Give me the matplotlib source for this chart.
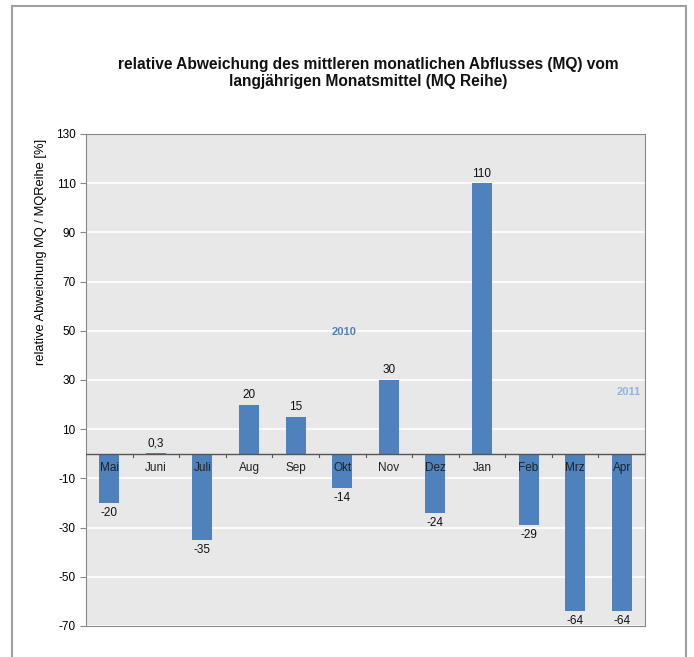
import matplotlib
matplotlib.use("Agg")
import matplotlib.pyplot as plt
from matplotlib.patches import Rectangle

months = ["Mai", "Juni", "Juli", "Aug", "Sep", "Okt", "Nov", "Dez", "Jan", "Feb", "Mrz", "Apr"]
values = [-20, 0.3, -35, 20, 15, -14, 30, -24, 110, -29, -64, -64]
value_labels = ["-20", "0,3", "-35", "20", "15", "-14", "30", "-24", "110", "-29", "-64", "-64"]
yticks = [130, 110, 90, 70, 50, 30, 10, -10, -30, -50, -70]

plt.rcParams['font.family'] = ['Liberation Sans', 'DejaVu Sans']

fig = plt.figure(figsize=(6.94, 6.57), dpi=100)
# outer frame
fig.patches.append(Rectangle((12/694, -0.01), (686-12)/694, 1 - 6/657 + 0.01,
                             transform=fig.transFigure, fill=False,
                             edgecolor="#a0a0a0", linewidth=1.5))

ax = fig.add_axes([86/694, 1 - 626/657, (645-86)/694, (626-134)/657])
ax.set_facecolor("#e8e8e8")
x = list(range(len(months)))
ax.bar(x, values, width=0.43, color="#4f81bd", zorder=3)
ax.set_xlim(-0.5, len(months) - 0.5)
ax.set_ylim(-70, 130)
ax.set_yticks(yticks)
ax.set_yticklabels([str(t) for t in yticks], fontsize=8.5)
ax.yaxis.grid(True, color="white", linewidth=1.2, zorder=0)
ax.set_axisbelow(True)
ax.axhline(0, color="#555555", linewidth=1, zorder=4)
ax.set_xticks([])
for s in ax.spines.values():
    s.set_color("#888888")
    s.set_linewidth(0.8)
ax.tick_params(axis='y', length=4, color="#888888")

for xi, m in zip(x, months):
    ax.text(xi, -5.8, m, ha="center", va="center", fontsize=8.5, color="#222222", zorder=5)
    ax.plot([xi + 0.5, xi + 0.5], [0, -1.2], color="#555555", linewidth=0.8, zorder=5)

for xi, v, lab in zip(x, values, value_labels):
    if v >= 0:
        ax.text(xi, v + 1.5, lab, ha="center", va="bottom", fontsize=8.5, color="#111111", zorder=5)
    else:
        ax.text(xi, v - 1.5, lab, ha="center", va="top", fontsize=8.5, color="#111111", zorder=5)

ax.text(5.05, 49.5, "2010", ha="center", va="center", fontsize=8, fontweight="bold", color="#4f81bd")
ax.text(11.15, 25, "2011", ha="center", va="center", fontsize=8, fontweight="bold", color="#8fb4e3")

ax.set_ylabel("relative Abweichung MQ / MQReihe [%]", fontsize=9.3, labelpad=4)
ax.yaxis.set_label_coords(-0.07, 0.76)

fig.text(0.53, 1 - 73/657, "relative Abweichung des mittleren monatlichen Abflusses (MQ) vom\nlangjährigen Monatsmittel (MQ Reihe)",
         ha="center", va="center", fontsize=11.2, fontweight="bold", color="#111111", linespacing=1.2)

fig.savefig("out.png", dpi=100)
